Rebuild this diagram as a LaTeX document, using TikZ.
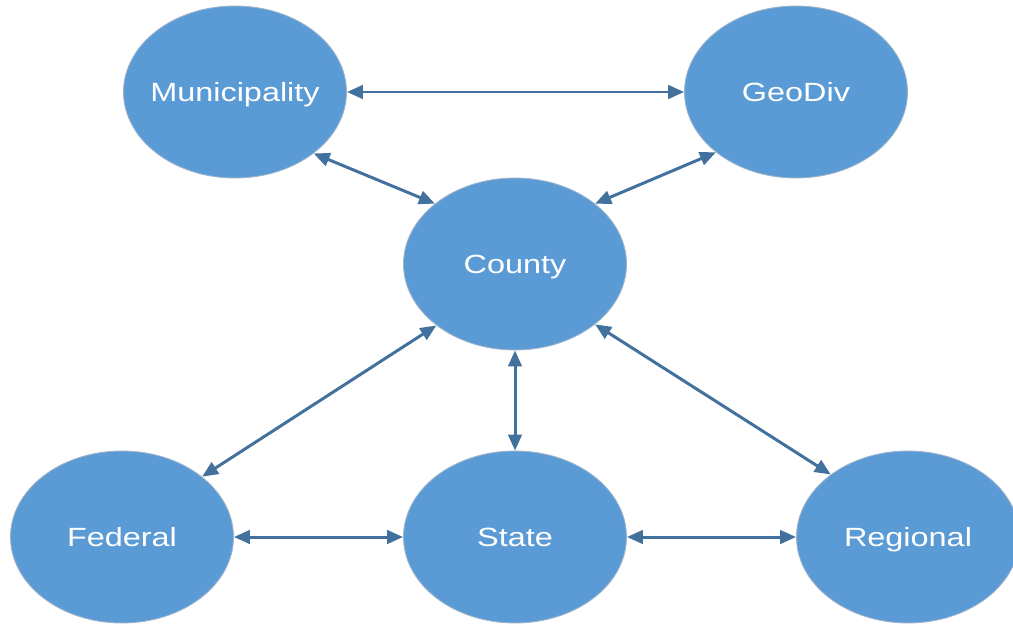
\documentclass[tikz,border=0pt]{standalone}
\usepackage{fontspec}
\setmainfont{Liberation Sans}[FakeStretch=1.23]
\usetikzlibrary{shapes.geometric,arrows.meta}
\definecolor{bubble}{HTML}{5B9BD5}
\definecolor{bubbleedge}{HTML}{9DB3CC}
\definecolor{link}{HTML}{41719C}
\newcommand{\entitytext}[1]{\makebox[0pt][c]{#1}}
\begin{document}
\begin{tikzpicture}[x=0.02cm,y=-0.02cm,
  entity/.style={ellipse,fill=bubble,draw=bubbleedge,line width=0.5pt,
    minimum width=4.46cm,minimum height=3.44cm,inner sep=0pt,
    text height=10.7pt,text depth=0pt,
    text=white,font=\fontsize{15pt}{18pt}\selectfont},
  rel/.style={draw=link,line width=1.7pt,
    {Triangle[length=0.32cm,width=0.27cm]}-{Triangle[length=0.32cm,width=0.27cm]}}]
\useasboundingbox (0,0) rectangle (1013,625);
\clip (0,0) rectangle (1013,625);

% entities
\node[entity] (muni) at (235,92) {\entitytext{Municipality}};
\node[entity] (geo) at (796,92) {\entitytext{GeoDiv}};
\node[entity] (county) at (515,264) {\entitytext{County}};
\node[entity] (fed) at (122,537) {\entitytext{Federal}};
\node[entity] (state) at (515,537) {\entitytext{State}};
\node[entity] (reg) at (908,537) {\entitytext{Regional}};

% relations
\draw[rel] (muni.east) -- (geo.west);
\draw[rel] (muni.-38) -- (county.143);
\draw[rel] (geo.-143) -- (county.37);
\draw[rel] (county.-142) -- (fed.37);
\draw[rel] (county.south) -- (state.north);
\draw[rel] (county.-37.5) -- (reg.141.6);
\draw[rel] (fed.east) -- (state.west);
\draw[rel] (state.east) -- (reg.west);
\end{tikzpicture}
\end{document}
